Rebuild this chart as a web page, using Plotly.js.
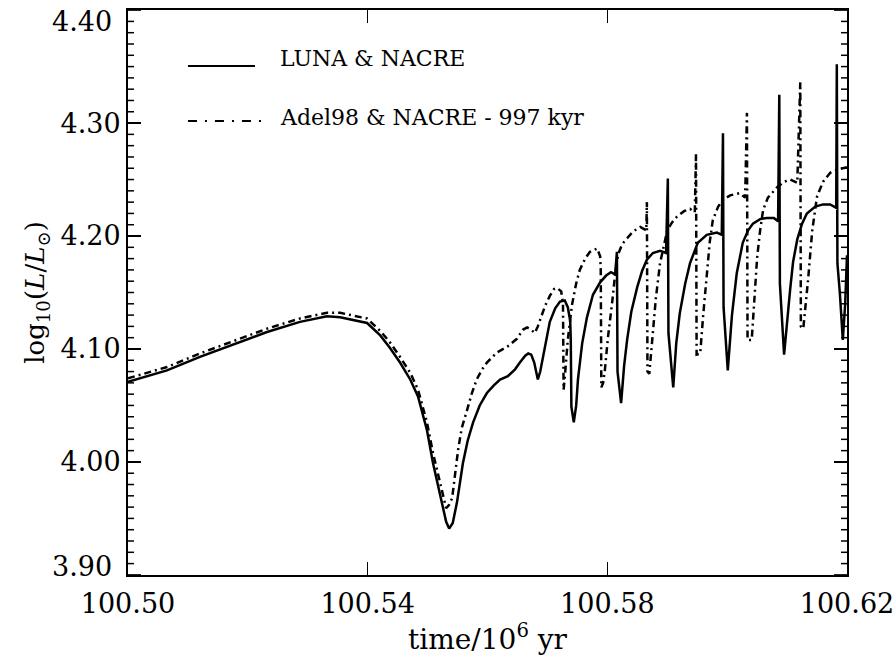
<!DOCTYPE html>
<html>
<head>
<meta charset="utf-8">
<script src="https://cdn.plot.ly/plotly-3.0.1.min.js"></script>
<style>html,body{margin:0;padding:0;background:#fff;}#chart{width:895px;height:657px;}</style>
</head>
<body>
<div id="chart"></div>
<script>
// LUNA & NACRE (solid)
var lunaTime = [
100.5000,100.5065,100.5120,100.5175,100.5232,100.5287,100.5332,100.5354,100.5399,100.5421,
100.5437,100.5454,100.5471,100.5484,100.5499,100.5509,100.5521,100.5531,100.5536,100.5542,
100.5549,100.5559,100.5567,100.5576,100.5587,100.5599,100.5611,100.5621,100.5634,100.5646,
100.5654,100.5663,100.5668,100.5673,100.5678,100.5681,100.5684,100.5688,100.5693,100.5698,
100.5704,100.5713,100.5721,100.5729,100.5734,100.5738,100.5739,100.5740,100.5744,100.5748,
100.5751,100.5758,100.5766,100.5776,100.5788,100.5798,100.5806,100.5813,100.5816,100.5817,
100.5823,100.5828,100.5833,100.5840,100.5850,100.5858,100.5866,100.5876,100.5888,100.5898,
100.5901,100.5902,100.5910,100.5915,100.5921,100.5930,100.5938,100.5951,100.5966,100.5983,
100.5991,100.5993,100.5994,100.6001,100.6008,100.6016,100.6026,100.6035,100.6043,100.6055,
100.6066,100.6078,100.6085,100.6087,100.6088,100.6095,100.6100,100.6105,100.6110,100.6117,
100.6125,100.6133,100.6147,100.6160,100.6172,100.6182,100.6183,100.6184,100.6188,100.6193,
100.6197,100.6200
];
var lunaLogL = [
4.071,4.081,4.093,4.104,4.115,4.124,4.129,4.128,4.123,4.112,
4.101,4.088,4.073,4.058,4.028,3.999,3.969,3.947,3.941,3.946,
3.964,3.999,4.019,4.035,4.050,4.061,4.068,4.073,4.076,4.082,
4.088,4.094,4.096,4.095,4.088,4.080,4.073,4.080,4.093,4.108,
4.124,4.136,4.142,4.143,4.137,4.125,4.108,4.049,4.035,4.050,
4.073,4.105,4.128,4.148,4.159,4.165,4.168,4.166,4.186,4.080,
4.052,4.085,4.108,4.133,4.155,4.169,4.179,4.185,4.187,4.185,
4.251,4.114,4.066,4.105,4.132,4.158,4.176,4.194,4.201,4.203,
4.201,4.291,4.137,4.081,4.130,4.167,4.194,4.205,4.211,4.215,
4.216,4.216,4.213,4.325,4.158,4.095,4.125,4.152,4.177,4.197,
4.211,4.220,4.226,4.228,4.228,4.225,4.352,4.176,4.150,4.108,
4.140,4.183
];
// Adel98 & NACRE - 997 kyr (dash-dot)
var adelTime = [
100.5000,100.5065,100.5120,100.5175,100.5232,100.5287,100.5332,100.5354,100.5399,100.5421,
100.5437,100.5454,100.5471,100.5484,100.5499,100.5509,100.5521,100.5531,100.5536,100.5541,
100.5551,100.5557,100.5566,100.5574,100.5582,100.5591,100.5599,100.5608,100.5616,100.5633,
100.5649,100.5659,100.5666,100.5673,100.5679,100.5684,100.5689,100.5696,100.5704,100.5711,
100.5716,100.5723,100.5726,100.5727,100.5729,100.5734,100.5741,100.5748,100.5754,100.5763,
100.5771,100.5783,100.5788,100.5789,100.5790,100.5793,100.5796,100.5801,100.5808,100.5813,
100.5818,100.5825,100.5833,100.5843,100.5855,100.5865,100.5866,100.5867,100.5870,100.5873,
100.5876,100.5881,100.5888,100.5895,100.5900,100.5908,100.5916,100.5928,100.5938,100.5946,
100.5948,100.5949,100.5955,100.5960,100.5966,100.5971,100.5976,100.5985,100.5993,100.6005,
100.6021,100.6030,100.6033,100.6034,100.6041,100.6045,100.6050,100.6055,100.6060,100.6068,
100.6083,100.6095,100.6105,100.6117,100.6122,100.6123,100.6127,100.6135,100.6142,100.6150,
100.6160,100.6172,100.6185,100.6200
];
var adelLogL = [
4.074,4.084,4.096,4.107,4.118,4.127,4.132,4.132,4.127,4.116,
4.106,4.093,4.079,4.064,4.035,4.008,3.980,3.959,3.962,3.968,
4.011,4.030,4.046,4.061,4.073,4.082,4.088,4.093,4.097,4.102,
4.109,4.117,4.119,4.117,4.114,4.120,4.128,4.138,4.147,4.153,
4.154,4.151,4.140,4.064,4.075,4.108,4.139,4.158,4.170,4.180,
4.186,4.189,4.182,4.170,4.066,4.070,4.082,4.110,4.141,4.166,
4.184,4.193,4.198,4.204,4.208,4.205,4.230,4.080,4.078,4.095,
4.117,4.145,4.176,4.194,4.205,4.212,4.217,4.222,4.224,4.221,
4.273,4.095,4.096,4.130,4.167,4.195,4.214,4.226,4.232,4.236,
4.238,4.234,4.309,4.108,4.108,4.145,4.181,4.205,4.223,4.234,
4.243,4.248,4.250,4.247,4.336,4.120,4.118,4.161,4.205,4.235,
4.248,4.256,4.259,4.261
];
var seriesNames = ['LUNA & NACRE', 'Adel98 & NACRE - 997 kyr'];
var yTickVals = [3.90, 4.00, 4.10, 4.20, 4.30, 4.40];
var yTickText = ['', '4.00', '4.10', '4.20', '4.30', ''];
var yEdgeLabels = ['3.90', '4.40'];
var xTitle = 'time/10<sup>6</sup> yr';
var yTitle = 'log<sub>10</sub>(<i>L</i>/<i>L</i><sub>⊙</sub>)';

var serif = 'DejaVu Serif, Liberation Serif, serif';
var tickFont = {family: serif, size: 27, color: '#000'};

var traces = [
  {x: lunaTime, y: lunaLogL, mode: 'lines', name: seriesNames[0],
   line: {color: '#000', width: 2.5}, hoverinfo: 'skip'},
  {x: adelTime, y: adelLogL, mode: 'lines', name: seriesNames[1],
   line: {color: '#000', width: 2.5, dash: '7px,4px,2px,4px'}, hoverinfo: 'skip'}
];

// y-axis tick marks (major 0.1, minor 0.01) on both sides, placed on the y scale
var plotW = 895 - 128 - 48;
var tickShapes = [];
for (var i = 0; i <= 50; i++) {
  var v = +(3.90 + i * 0.01).toFixed(2);
  var len = (i % 10 === 0 ? 13 : 6) / plotW;
  var st = {color: '#000', width: 1.5};
  tickShapes.push({type: 'line', xref: 'paper', yref: 'y', x0: 0, x1: len, y0: v, y1: v, line: st, layer: 'above'});
  tickShapes.push({type: 'line', xref: 'paper', yref: 'y', x0: 1 - len, x1: 1, y0: v, y1: v, line: st, layer: 'above'});
}

var legendShapes = [
  {type: 'line', xref: 'paper', yref: 'paper', x0: 0.0834, x1: 0.1766, y0: 0.901, y1: 0.901,
   line: {color: '#000', width: 2}},
  {type: 'line', xref: 'paper', yref: 'paper', x0: 0.0834, x1: 0.1864, y0: 0.8035, y1: 0.8035,
   line: {color: '#000', width: 2, dash: '9px,8px,2px,8px'}}
];

var layout = {
  width: 895, height: 657,
  margin: {l: 128, r: 48, t: 10, b: 82, pad: 0},
  paper_bgcolor: '#fff', plot_bgcolor: '#fff',
  showlegend: false,
  font: {family: serif, color: '#000'},
  xaxis: {
    range: [100.50, 100.62], tick0: 100.50, dtick: 0.04, tickformat: '.2f',
    ticks: 'inside', ticklen: 13, tickwidth: 1.5, tickcolor: '#000',
    showline: true, linewidth: 2, linecolor: '#000', mirror: 'ticks',
    showgrid: false, zeroline: false,
    tickfont: tickFont,
    ticklabelstandoff: 4, ticklabeloverflow: 'allow',
    title: {text: xTitle, font: {family: serif, size: 28, color: '#000'}, standoff: 2}
  },
  yaxis: {
    range: [3.8999, 4.4001], tickmode: 'array', tickvals: yTickVals, ticktext: yTickText,
    ticks: 'inside', ticklen: 13, tickwidth: 1.5, tickcolor: '#000',
    showline: true, linewidth: 2, linecolor: '#000', mirror: 'ticks',
    showgrid: false, zeroline: false,
    tickfont: tickFont,
    ticklabeloverflow: 'allow',
    title: {text: yTitle, font: {family: serif, size: 26, color: '#000'}, standoff: 8}
  },
  shapes: legendShapes.concat(tickShapes),
  annotations: [
    {xref: 'paper', yref: 'paper', x: 0.2086, y: 0.9133, xanchor: 'left', yanchor: 'middle',
     text: seriesNames[0], showarrow: false, font: {family: serif, size: 22, color: '#000'}},
    {xref: 'paper', yref: 'paper', x: 0.2086, y: 0.8106, xanchor: 'left', yanchor: 'middle',
     text: seriesNames[1], showarrow: false, font: {family: serif, size: 22, color: '#000'}},
    {xref: 'paper', yref: 'y', x: 0, y: yTickVals[0], xanchor: 'right', yanchor: 'middle',
     xshift: -14, yshift: 8, text: yEdgeLabels[0], showarrow: false, font: tickFont},
    {xref: 'paper', yref: 'y', x: 0, y: yTickVals[5], xanchor: 'right', yanchor: 'middle',
     xshift: -14, yshift: -11, text: yEdgeLabels[1], showarrow: false, font: tickFont}
  ]
};

Plotly.newPlot('chart', traces, layout, {displayModeBar: false, staticPlot: true});
</script>
</body>
</html>
